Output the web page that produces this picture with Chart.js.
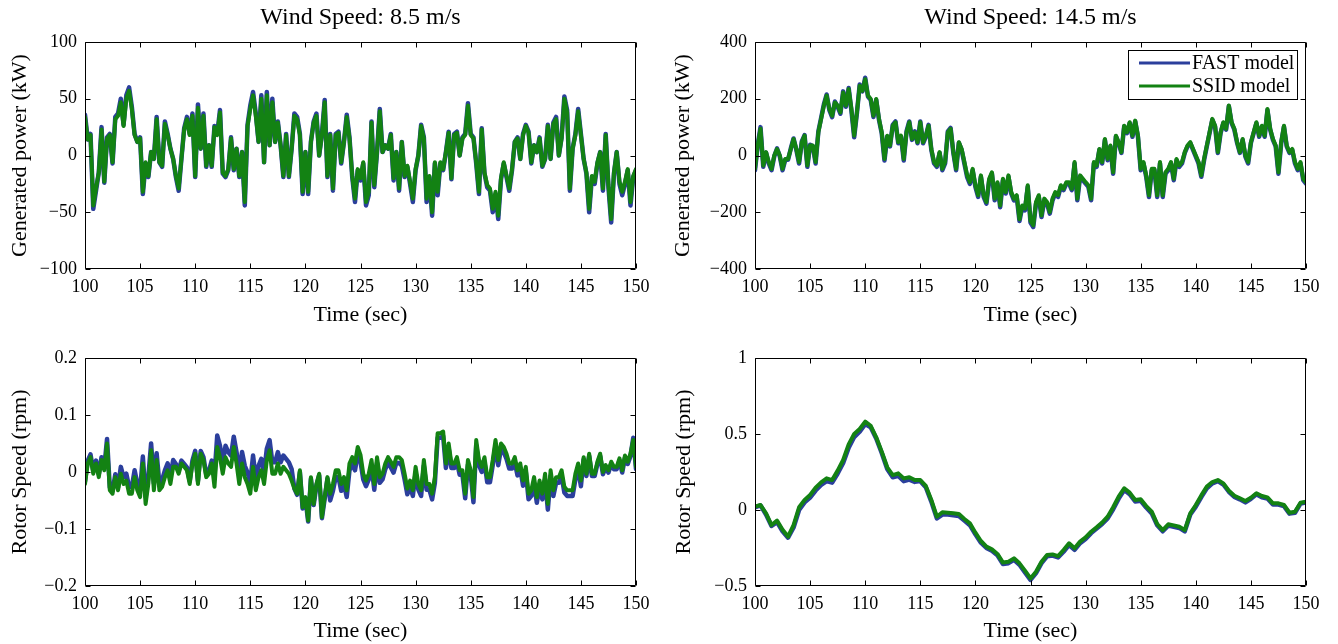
<!DOCTYPE html>
<html>
<head>
<meta charset="utf-8">
<script src="https://cdn.jsdelivr.net/npm/chart.js@4.4.0/dist/chart.umd.min.js"></script>
<style>
  body { margin: 0; background: #fff; width: 1338px; height: 644px; position: relative; overflow: hidden; }
  canvas { position: absolute; }
</style>
</head>
<body>
<canvas id="power-low" style="left:0;top:0" width="669" height="330"></canvas>
<canvas id="power-high" style="left:669px;top:0" width="669" height="330"></canvas>
<canvas id="rotor-low" style="left:0;top:330px" width="669" height="314"></canvas>
<canvas id="rotor-high" style="left:669px;top:330px" width="669" height="314"></canvas>
<script>
// axis ticks
const timeTicks = [100, 105, 110, 115, 120, 125, 130, 135, 140, 145, 150];
const powerTicksLow = [-100, -50, 0, 50, 100];
const powerLabelsLow = ['\u2212100', '\u221250', '0', '50', '100'];
const powerTicksHigh = [-400, -200, 0, 200, 400];
const powerLabelsHigh = ['\u2212400', '\u2212200', '0', '200', '400'];
const rotorTicksLow = [-0.2, -0.1, 0, 0.1, 0.2];
const rotorLabelsLow = ['\u22120.2', '\u22120.1', '0', '0.1', '0.2'];
const rotorTicksHigh = [-0.5, 0, 0.5, 1];
const rotorLabelsHigh = ['\u22120.5', '0', '0.5', '1'];

// sample spacing (s) for each record, both starting at t = 100 s
const fineStep = 0.25;
const coarseStep = 0.5;

// generated power at 8.5 m/s (kW)
const powerLowFast = [
  36, 14, 19, -47, -31, -15, 25, -24, 16, 19,
  -7, 34, 37, 50, 27, 53, 60, 43, 19, 12,
  16, -34, -7, -19, 3, -3, 34, -6, -10, 30,
  19, 6, -3, -19, -31, -3, 24, 34, 19, 37,
  -19, 45, 6, 37, -10, 9, -10, 26, 19, 40,
  -16, -19, -13, 16, -13, 6, -19, 3, -44, 27,
  44, 56, 37, 12, 53, -6, 56, 9, 50, 12,
  30, 9, -19, 19, -19, 6, 37, 34, 19, -34,
  3, -34, 12, 30, 37, 0, 19, 49, -19, 19,
  -31, 19, 21, -7, 12, 36, 16, -19, -41, -13,
  -22, -7, -44, -35, 30, -28, 3, 41, 3, 9,
  6, 19, -22, 3, -31, 12, -19, -10, -25, -41,
  -13, 0, 27, 16, -41, -19, -53, -7, -35, -7,
  -13, 3, 21, -21, 19, 21, 0, 16, 19, 46,
  19, 16, -7, -34, 24, -16, -28, -31, -50, -34,
  -56, -21, -7, -19, -31, -13, 12, 16, -3, 19,
  27, 21, -7, 9, 3, 16, -10, -3, 27, -3,
  29, 34, 0, 16, 52, 40, -31, 6, 19, 41,
  19, -3, -16, -50, -19, -25, -7, 3, -31, 19,
  -28, -59, -16, 3, -25, -35, -25, -13, -44, -19, -13
];
const powerLowSsid = [
  34, 14, 18, -44, -29, -15, 23, -23, 15, 18,
  -6, 32, 35, 47, 26, 50, 57, 41, 18, 12,
  15, -32, -6, -18, 3, -3, 32, -6, -9, 28,
  18, 6, -3, -18, -29, -3, 23, 32, 18, 35,
  -18, 42, 6, 35, -9, 9, -9, 25, 18, 38,
  -15, -18, -12, 15, -12, 6, -18, 3, -41, 26,
  41, 53, 35, 12, 50, -6, 53, 9, 47, 12,
  29, 9, -18, 18, -18, 6, 35, 32, 18, -32,
  3, -32, 12, 29, 35, 0, 18, 47, -18, 18,
  -29, 18, 20, -6, 12, 34, 15, -18, -38, -12,
  -20, -6, -41, -32, 29, -26, 3, 39, 3, 9,
  6, 18, -20, 3, -29, 12, -18, -9, -23, -38,
  -12, 0, 26, 15, -38, -18, -50, -6, -32, -6,
  -12, 3, 20, -20, 18, 20, 0, 15, 18, 44,
  18, 15, -6, -32, 23, -15, -26, -29, -47, -32,
  -53, -20, -6, -18, -29, -12, 12, 15, -3, 18,
  26, 20, -6, 9, 3, 15, -9, -3, 26, -3,
  28, 32, 0, 15, 50, 38, -29, 6, 18, 39,
  18, -3, -15, -47, -18, -23, -6, 3, -29, 18,
  -26, -56, -15, 3, -23, -32, -23, -12, -41, -18, -12
];

// generated power at 14.5 m/s (kW)
const powerHighFast = [
  -52, 38, 100, -40, 10, -28, -52, -3, 25, -3,
  -52, -15, -15, 25, 60, 20, -28, 50, 72, -40,
  38, 33, -28, 85, 132, 180, 215, 160, 135, 190,
  172, 147, 226, 172, 238, 158, 64, 150, 250, 226,
  274, 208, 196, 136, 196, 126, 78, -18, 66, 32,
  108, 120, 43, 66, -18, 85, 120, 55, 85, 43,
  120, 43, 66, 108, 20, -28, -40, 9, -52, -28,
  85, 97, 9, -52, 45, 20, -28, -76, -100, -52,
  -111, -146, -75, -146, -170, -88, -64, -158, -99, -182,
  -87, -134, -75, -134, -158, -145, -231, -181, -193, -110,
  -236, -252, -170, -145, -217, -158, -170, -205, -158, -134,
  -146, -110, -122, -99, -99, -122, -28, -158, -75, -87,
  -99, -110, -158, -28, -40, 20, -28, 55, -17, 32,
  -64, 67, 44, 9, 102, 79, 114, 66, 120, 66,
  -52, -28, -75, -146, -52, -52, -146, -28, -146, -64,
  -52, -28, -87, -17, -40, -28, 9, 32, 44, 20,
  -4, -28, -75, -17, 32, 79, 126, 102, 9, 79,
  114, 91, 174, 114, 91, 44, 9, 55, -4, -28,
  44, 79, 114, 66, 102, 66, 160, 91, 55, 32,
  -64, 44, 102, 32, 9, 20, -28, -52, -28, -87, -99
];
const powerHighSsid = [
  -47, 35, 94, -35, 12, -23, -47, 0, 23, 0,
  -47, -12, -12, 23, 58, 23, -23, 47, 70, -35,
  35, 35, -23, 82, 129, 176, 211, 164, 140, 187,
  176, 152, 222, 176, 234, 164, 70, 152, 246, 228,
  269, 211, 199, 140, 199, 129, 82, -12, 70, 35,
  105, 117, 47, 70, -12, 82, 117, 58, 82, 47,
  117, 47, 70, 105, 23, -23, -35, 12, -47, -23,
  82, 94, 12, -47, 47, 23, -23, -70, -94, -47,
  -105, -140, -70, -140, -164, -82, -59, -152, -94, -176,
  -82, -129, -70, -129, -152, -140, -225, -176, -187, -105,
  -230, -246, -164, -140, -211, -152, -164, -199, -152, -129,
  -140, -105, -117, -94, -94, -117, -23, -152, -70, -82,
  -94, -105, -152, -23, -35, 23, -23, 58, -12, 35,
  -59, 70, 47, 12, 105, 82, 117, 70, 123, 70,
  -47, -23, -70, -140, -47, -47, -140, -23, -140, -59,
  -47, -23, -82, -12, -35, -23, 12, 35, 47, 23,
  0, -23, -70, -12, 35, 82, 129, 105, 12, 82,
  117, 94, 176, 117, 94, 47, 12, 58, 0, -23,
  47, 82, 117, 70, 105, 70, 164, 94, 58, 35,
  -59, 47, 105, 35, 12, 23, -23, -47, -23, -82, -94
];

// rotor speed at 8.5 m/s (rpm)
const rotorLowFast = [
  -0.016, 0.020, 0.031, 0.002, 0.020, -0.004, 0.026, 0.008, 0.058, -0.027,
  -0.033, -0.004, -0.027, 0.009, -0.009, -0.003, -0.026, -0.026, 0.003, -0.020,
  -0.032, 0.027, -0.044, -0.008, 0.050, -0.020, 0.033, -0.020, -0.014, 0.003,
  0.015, -0.009, 0.021, 0.014, 0.002, 0.020, 0.014, 0.008, -0.016, 0.020,
  0.037, -0.016, 0.037, 0.026, -0.004, 0.002, 0.020, -0.006, 0.064, 0.046,
  0.017, 0.046, 0.035, 0.029, 0.062, 0.035, -0.001, 0.035, 0.011, -0.001,
  -0.018, 0.029, -0.012, 0.011, 0.023, -0.001, 0.041, 0.056, 0.017, 0.017,
  0.035, 0.017, 0.029, 0.023, 0.017, 0.005, -0.029, -0.040, 0.000, -0.064,
  -0.046, -0.087, -0.012, -0.058, -0.024, -0.006, -0.081, -0.047, -0.012, -0.050,
  -0.033, -0.009, -0.009, -0.033, -0.021, -0.044, 0.003, 0.014, 0.003, 0.032,
  0.018, -0.013, -0.025, -0.013, 0.011, -0.031, 0.016, -0.019, -0.013, 0.005,
  0.016, 0.008, -0.001, 0.016, 0.016, 0.011, -0.013, -0.039, -0.025, -0.042,
  -0.001, -0.031, -0.042, 0.011, -0.031, -0.031, -0.048, -0.019, 0.060, 0.060,
  0.063, 0.007, 0.042, 0.007, 0.007, 0.018, -0.005, -0.005, -0.046, 0.013,
  -0.005, -0.053, 0.047, 0.012, 0.000, 0.017, -0.018, -0.018, 0.012, 0.047,
  0.012, 0.041, 0.035, 0.023, 0.006, 0.006, 0.017, -0.006, 0.006, -0.024,
  0.000, -0.048, -0.042, -0.019, -0.054, -0.025, -0.048, -0.013, -0.066, -0.007,
  -0.042, -0.019, -0.019, -0.007, -0.036, -0.042, -0.042, -0.042, -0.013, 0.005,
  -0.025, 0.022, -0.007, 0.028, -0.007, -0.007, 0.014, 0.028, -0.004, 0.008,
  -0.001, 0.014, 0.005, 0.005, 0.020, -0.001, 0.025, 0.014, 0.028, 0.060, 0.005
];
const rotorLowSsid = [
  -0.021, 0.015, 0.026, -0.003, 0.015, -0.009, 0.021, 0.003, 0.050, -0.032,
  -0.038, -0.009, -0.032, -0.003, -0.021, -0.015, -0.038, -0.038, -0.009, -0.032,
  -0.044, 0.015, -0.056, -0.020, 0.038, -0.032, 0.021, -0.032, -0.026, -0.009,
  0.003, -0.021, 0.009, 0.009, -0.003, 0.015, 0.009, 0.003, -0.021, 0.015,
  0.032, -0.021, 0.032, 0.021, -0.009, -0.003, 0.015, -0.026, 0.044, 0.026,
  -0.003, 0.026, 0.015, 0.009, 0.044, 0.015, -0.021, 0.015, -0.009, -0.021,
  -0.038, 0.009, -0.032, -0.009, 0.003, -0.021, 0.021, 0.038, -0.003, -0.003,
  0.015, -0.003, 0.009, 0.003, -0.003, -0.015, -0.029, -0.038, 0.003, -0.062,
  -0.044, -0.085, -0.009, -0.056, -0.021, -0.003, -0.079, -0.044, -0.009, -0.038,
  -0.021, 0.003, 0.003, -0.021, -0.009, -0.032, 0.015, 0.026, 0.015, 0.044,
  0.030, -0.003, -0.015, -0.003, 0.021, -0.021, 0.026, -0.009, -0.003, 0.015,
  0.026, 0.018, 0.009, 0.026, 0.026, 0.021, -0.003, -0.029, -0.015, -0.032,
  0.009, -0.021, -0.032, 0.021, -0.021, -0.021, -0.038, -0.009, 0.068, 0.068,
  0.071, 0.015, 0.050, 0.015, 0.015, 0.026, 0.003, 0.003, -0.038, 0.021,
  0.003, -0.044, 0.056, 0.021, 0.009, 0.026, -0.009, -0.009, 0.021, 0.056,
  0.021, 0.050, 0.044, 0.032, 0.015, 0.015, 0.026, 0.003, 0.015, -0.015,
  0.009, -0.038, -0.032, -0.009, -0.044, -0.015, -0.038, -0.003, -0.056, 0.003,
  -0.032, -0.009, -0.009, 0.003, -0.026, -0.032, -0.032, -0.032, -0.003, 0.015,
  -0.015, 0.026, -0.003, 0.032, -0.003, -0.003, 0.018, 0.032, 0.000, 0.012,
  0.003, 0.018, 0.009, 0.009, 0.024, 0.003, 0.029, 0.018, 0.032, 0.056, 0.009
];

// rotor speed at 14.5 m/s (rpm)
const rotorHighFast = [
  0.018, 0.030, -0.030, -0.105, -0.080, -0.140, -0.182, -0.115, 0.000, 0.050,
  0.082, 0.128, 0.165, 0.190, 0.180, 0.240, 0.310, 0.410, 0.480, 0.515,
  0.565, 0.545, 0.470, 0.375, 0.270, 0.215, 0.225, 0.190, 0.200, 0.185,
  0.190, 0.150, 0.055, -0.055, -0.030, -0.030, -0.035, -0.040, -0.070, -0.100,
  -0.160, -0.215, -0.250, -0.268, -0.298, -0.355, -0.350, -0.328, -0.360, -0.410,
  -0.460, -0.415, -0.350, -0.305, -0.300, -0.312, -0.275, -0.230, -0.262, -0.218,
  -0.190, -0.152, -0.122, -0.092, -0.055, 0.005, 0.075, 0.132, 0.104, 0.056,
  0.060, 0.016, -0.022, -0.100, -0.140, -0.103, -0.110, -0.118, -0.140, -0.030,
  0.022, 0.085, 0.142, 0.175, 0.190, 0.168, 0.120, 0.086, 0.070, 0.050,
  0.074, 0.104, 0.084, 0.076, 0.036, 0.036, 0.025, -0.024, -0.018, 0.042, 0.050
];
const rotorHighSsid = [
  0.022, 0.033, -0.022, -0.099, -0.070, -0.130, -0.175, -0.099, 0.018, 0.066,
  0.099, 0.147, 0.182, 0.208, 0.197, 0.259, 0.329, 0.432, 0.500, 0.533,
  0.581, 0.553, 0.478, 0.384, 0.281, 0.230, 0.241, 0.208, 0.215, 0.197,
  0.197, 0.158, 0.066, -0.044, -0.015, -0.018, -0.022, -0.026, -0.059, -0.088,
  -0.149, -0.204, -0.241, -0.259, -0.289, -0.346, -0.340, -0.318, -0.351, -0.399,
  -0.450, -0.406, -0.340, -0.296, -0.292, -0.303, -0.263, -0.219, -0.252, -0.208,
  -0.180, -0.143, -0.114, -0.083, -0.044, 0.018, 0.088, 0.143, 0.114, 0.066,
  0.070, 0.026, -0.011, -0.092, -0.132, -0.094, -0.101, -0.110, -0.132, -0.022,
  0.033, 0.096, 0.154, 0.184, 0.197, 0.175, 0.127, 0.094, 0.077, 0.059,
  0.081, 0.110, 0.092, 0.083, 0.044, 0.044, 0.033, -0.018, -0.011, 0.048, 0.055
];

const FONT = "'Liberation Serif', 'Times New Roman', serif";
const BLUE = '#2b3f9c';
const GREEN = '#138213';

const toPoints = (vals, step) => vals.map((v, i) => ({ x: 100 + i * step, y: v }));

// MATLAB-style box with ticks pointing inwards on all four sides
const boxFrame = {
  id: 'boxFrame',
  afterDatasetsDraw(chart) {
    const { ctx, chartArea: a, scales: { x, y } } = chart;
    const len = 5;
    const l = Math.round(a.left) + 0.5, r = Math.round(a.right) - 0.5;
    const t = Math.round(a.top) + 0.5, b = Math.round(a.bottom) - 0.5;
    ctx.save();
    ctx.strokeStyle = '#000';
    ctx.lineWidth = 1;
    ctx.beginPath();
    ctx.rect(l, t, r - l, b - t);
    x.ticks.forEach(tk => {
      const px = Math.round(x.getPixelForValue(tk.value)) + 0.5;
      ctx.moveTo(px, b); ctx.lineTo(px, b - len);
      ctx.moveTo(px, t); ctx.lineTo(px, t + len);
    });
    y.ticks.forEach(tk => {
      const py = Math.round(y.getPixelForValue(tk.value)) + 0.5;
      ctx.moveTo(l, py); ctx.lineTo(l + len, py);
      ctx.moveTo(r, py); ctx.lineTo(r - len, py);
    });
    ctx.stroke();
    ctx.restore();
  }
};

// title centred over the plot box
const panelTitle = {
  id: 'panelTitle',
  afterDraw(chart, args, opts) {
    if (!opts.text) return;
    const { ctx, chartArea: a } = chart;
    ctx.save();
    ctx.font = `24px ${FONT}`;
    ctx.fillStyle = '#000';
    ctx.textAlign = 'center';
    ctx.textBaseline = 'middle';
    ctx.fillText(opts.text, (a.left + a.right) / 2, opts.y);
    ctx.restore();
  }
};

// boxed legend in the upper right corner of the plot
const boxLegend = {
  id: 'boxLegend',
  afterDraw(chart, args, opts) {
    if (!opts.show) return;
    const { ctx, chartArea: a } = chart;
    ctx.save();
    ctx.font = `20px ${FONT}`;
    const sets = chart.data.datasets;
    const textW = Math.max(...sets.map(d => ctx.measureText(d.label).width));
    const w = Math.round(64 + textW + 3), h = 49;
    const left = Math.round(a.right - 9 - w), top = Math.round(a.top) + 8;
    ctx.fillStyle = '#fff';
    ctx.fillRect(left, top, w, h);
    ctx.strokeStyle = '#000';
    ctx.lineWidth = 1;
    ctx.strokeRect(left + 0.5, top + 0.5, w, h);
    sets.forEach((d, i) => {
      const yy = top + 13 + i * 23;
      ctx.strokeStyle = d.borderColor;
      ctx.lineWidth = 3;
      ctx.beginPath();
      ctx.moveTo(left + 11, yy); ctx.lineTo(left + 62, yy);
      ctx.stroke();
      ctx.fillStyle = '#000';
      ctx.textBaseline = 'middle';
      ctx.fillText(d.label, left + 64, yy + 1);
    });
    ctx.restore();
  }
};

function makePanel(id, cfg) {
  const tickFont = { family: FONT, size: 18 };
  const axisFont = { family: FONT, size: 22 };
  return new Chart(document.getElementById(id), {
    type: 'line',
    data: {
      datasets: [
        { label: 'FAST model', data: toPoints(cfg.fast, cfg.step), borderColor: BLUE, borderWidth: 4.5, order: 2 },
        { label: 'SSID model', data: toPoints(cfg.ssid, cfg.step), borderColor: GREEN, borderWidth: 4, order: 1 }
      ]
    },
    options: {
      responsive: false,
      animation: false,
      devicePixelRatio: 1,
      layout: { padding: { left: 0, right: cfg.padRight, top: cfg.padTop, bottom: 0 } },
      elements: {
        point: { radius: 0 },
        line: { tension: 0, borderJoinStyle: 'round', borderCapStyle: 'round' }
      },
      plugins: {
        legend: { display: false },
        tooltip: { enabled: false },
        panelTitle: { text: cfg.title, y: 18 },
        boxLegend: { show: !!cfg.legend }
      },
      scales: {
        x: {
          type: 'linear',
          min: 100, max: 150,
          afterBuildTicks: s => { s.ticks = timeTicks.map(v => ({ value: v })); },
          afterFit: s => { s.height = cfg.xHeight; },
          grid: { display: false, drawTicks: false },
          border: { display: false },
          ticks: { font: tickFont, color: '#000', padding: 7, maxRotation: 0, autoSkip: false,
                   callback: v => String(v) },
          title: { display: true, text: 'Time (sec)', font: axisFont, color: '#000',
                   padding: { top: 0, bottom: cfg.xTitlePad } }
        },
        y: {
          min: cfg.yTicks[0], max: cfg.yTicks[cfg.yTicks.length - 1],
          afterBuildTicks: s => { s.ticks = cfg.yTicks.map(v => ({ value: v })); },
          afterFit: s => { s.width = cfg.yWidth; },
          grid: { display: false, drawTicks: false },
          border: { display: false },
          ticks: { font: tickFont, color: '#000', padding: 8, autoSkip: false,
                   callback: (v, i) => cfg.yLabels[i] },
          title: { display: true, text: cfg.yTitle, font: axisFont, color: '#000',
                   padding: { top: cfg.yTitlePad, bottom: 0 } }
        }
      }
    },
    plugins: [boxFrame, panelTitle, boxLegend]
  });
}

makePanel('power-low', {
  fast: powerLowFast, ssid: powerLowSsid, step: fineStep,
  yTicks: powerTicksLow, yLabels: powerLabelsLow, yTitle: 'Generated power (kW)',
  title: 'Wind Speed: 8.5 m/s', padTop: 42, padRight: 33, yWidth: 85, xHeight: 61, xTitlePad: 2, yTitlePad: 7
});
makePanel('power-high', {
  fast: powerHighFast, ssid: powerHighSsid, step: fineStep,
  yTicks: powerTicksHigh, yLabels: powerLabelsHigh, yTitle: 'Generated power (kW)',
  title: 'Wind Speed: 14.5 m/s', legend: true, padTop: 42, padRight: 32, yWidth: 86, xHeight: 61, xTitlePad: 2, yTitlePad: 1
});
makePanel('rotor-low', {
  fast: rotorLowFast, ssid: rotorLowSsid, step: fineStep,
  yTicks: rotorTicksLow, yLabels: rotorLabelsLow, yTitle: 'Rotor Speed (rpm)',
  padTop: 28, padRight: 33, yWidth: 85, xHeight: 58, xTitlePad: 0, yTitlePad: 7
});
makePanel('rotor-high', {
  fast: rotorHighFast, ssid: rotorHighSsid, step: coarseStep,
  yTicks: rotorTicksHigh, yLabels: rotorLabelsHigh, yTitle: 'Rotor Speed (rpm)',
  padTop: 28, padRight: 32, yWidth: 86, xHeight: 58, xTitlePad: 0, yTitlePad: 2
});
</script>
</body>
</html>
